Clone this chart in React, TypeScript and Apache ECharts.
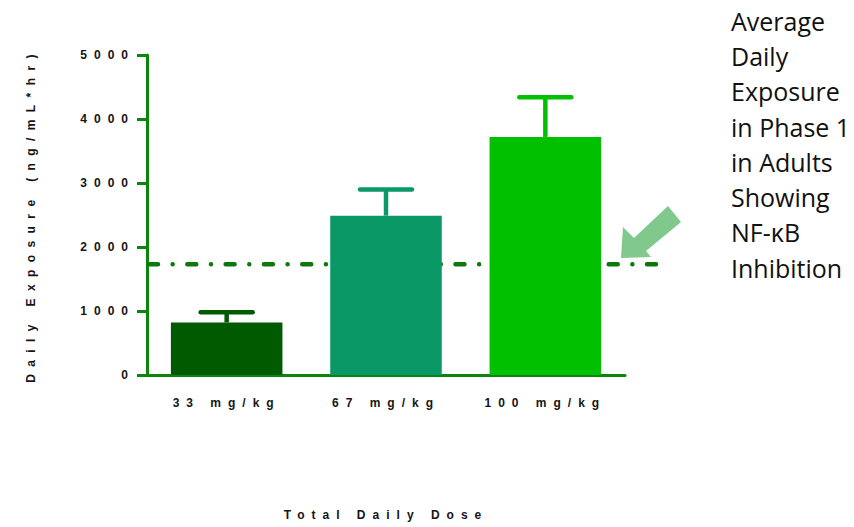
import React, { useEffect, useRef } from 'react';
import * as echarts from 'echarts';

// Dose groups and measured daily exposure (ng/mL*hr)
const doseLabels = ['33 mg/kg', '67 mg/kg', '100 mg/kg'];
const meanExposure = [820, 2490, 3720];
const upperErrorExposure = [980, 2900, 4340];
const barColors = ['#005a00', '#0a9966', '#00c000'];

// Exposure associated with NF-kB inhibition in adults
const inhibitionExposure = 1730;

// Value axis range
const yAxisMin = 0;
const yAxisMax = 5000;
const yAxisStep = 1000;

const xAxisTitle = 'Total Daily Dose';
const yAxisTitle = 'Daily Exposure (ng/mL*hr)';
const noteLines = ['Average', 'Daily', 'Exposure', 'in Phase 1', 'in Adults', 'Showing', 'NF-κB', 'Inhibition'];

const AXIS_GREEN = '#0a870a';
const LINE_GREEN = '#0a780a';
const ARROW_GREEN = '#80c88c';
const GRID_LEFT = 147;
const LABEL_FONT = { color: '#141414', fontFamily: '"Liberation Sans", Arial, sans-serif', fontWeight: 'bold' as const, fontSize: 12 };

export default function App() {
  const ref = useRef<HTMLDivElement>(null);

  useEffect(() => {
    const el = ref.current!;
    const chart = echarts.init(el, undefined, { renderer: 'svg' });

    chart.setOption({
      animation: false,
      grid: { left: GRID_LEFT, right: 229, top: 55, bottom: 152 },
      xAxis: {
        type: 'category',
        data: doseLabels,
        axisLine: { lineStyle: { color: AXIS_GREEN, width: 3 } },
        axisTick: { alignWithLabel: true, length: 10, lineStyle: { color: AXIS_GREEN, width: 3 } },
        axisLabel: { ...LABEL_FONT, margin: 22 },
        name: xAxisTitle,
        nameLocation: 'middle',
        nameGap: 134,
        nameTextStyle: { ...LABEL_FONT },
      },
      yAxis: {
        type: 'value',
        min: yAxisMin,
        max: yAxisMax,
        interval: yAxisStep,
        axisLine: { show: true, lineStyle: { color: AXIS_GREEN, width: 3 } },
        axisTick: { show: true, length: 10, lineStyle: { color: AXIS_GREEN, width: 3 } },
        splitLine: { show: false },
        axisLabel: { ...LABEL_FONT, margin: 12, formatter: (v: number) => String(v) },
        name: yAxisTitle,
        nameLocation: 'middle',
        nameGap: 110,
        nameTextStyle: { ...LABEL_FONT },
      },
      series: [
        {
          type: 'bar',
          barWidth: '70%',
          z: 3,
          data: meanExposure.map((v, i) => ({ value: v, itemStyle: { color: barColors[i] } })),
        },
        {
          type: 'custom',
          z: 3,
          encode: { x: 0, y: 2 },
          data: upperErrorExposure.map((u, i) => [i, meanExposure[i], u]),
          renderItem: (params: any, api: any) => {
            const idx = api.value(0);
            const base = api.coord([idx, api.value(1)]);
            const top = api.coord([idx, api.value(2)]);
            const color = barColors[params.dataIndex];
            return {
              type: 'group',
              children: [
                {
                  type: 'line',
                  shape: { x1: base[0], y1: base[1], x2: top[0], y2: top[1] },
                  style: { stroke: color, lineWidth: 4.5 },
                },
                {
                  type: 'line',
                  shape: { x1: top[0] - 26, y1: top[1], x2: top[0] + 26, y2: top[1] },
                  style: { stroke: color, lineWidth: 4.5, lineCap: 'round' },
                },
              ],
            };
          },
        },
      ],
    });

    const yLine = chart.convertToPixel({ yAxisIndex: 0 }, inhibitionExposure) as number;

    chart.setOption({
      graphic: [
        {
          type: 'line',
          z: 1,
          shape: { x1: GRID_LEFT + 2, y1: yLine, x2: 656, y2: yLine },
          style: { stroke: LINE_GREEN, lineWidth: 4.5, lineDash: [9, 14.65, 0.01, 14.65], lineCap: 'round' },
        },
        {
          type: 'polygon',
          z: 4,
          shape: {
            points: [
              [621, 258], [623, 227], [634, 238], [668, 206],
              [681, 222], [646, 251], [651, 257],
            ],
          },
          style: { fill: ARROW_GREEN },
        },
        {
          type: 'text',
          z: 4,
          left: 731,
          top: 3,
          style: {
            text: noteLines.join('\n'),
            font: '25px "Open Sans", sans-serif',
            lineHeight: 35.3,
            fill: '#111111',
          },
        },
      ],
    });

    // Chart labels are letter-spaced; the side note keeps normal spacing.
    const adjustSpacing = () => {
      el.querySelectorAll('text, tspan').forEach((t) => {
        const s = (t.textContent || '').trim();
        if (noteLines.includes(s)) {
          (t as SVGElement).style.letterSpacing = 'normal';
        } else if (s === yAxisTitle) {
          (t as SVGElement).style.letterSpacing = '7.4px';
        }
      });
    };
    adjustSpacing();
    chart.on('finished', adjustSpacing);

    return () => {
      chart.dispose();
    };
  }, []);

  return (
    <div
      ref={ref}
      style={{ position: 'fixed', left: 0, top: 0, width: 854, height: 527, background: '#ffffff', letterSpacing: '7px' }}
    />
  );
}
